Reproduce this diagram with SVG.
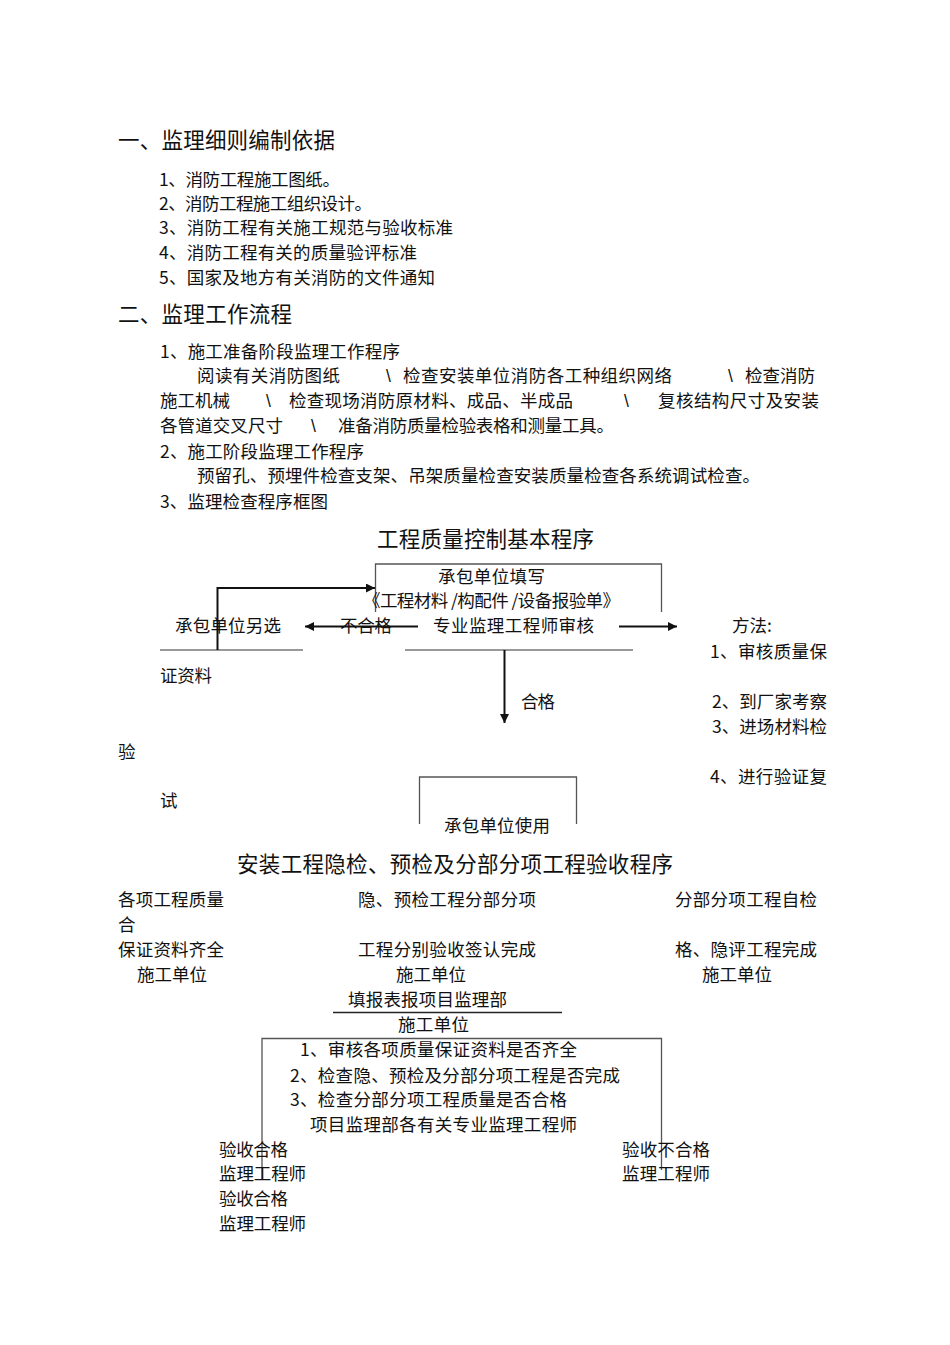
<svg xmlns="http://www.w3.org/2000/svg" width="950" height="1345" viewBox="0 0 950 1345">
<defs>
<style>
text{font-family:"Noto Sans CJK SC","Liberation Sans",sans-serif;fill:#111;font-size:17.5px}
.h{font-size:21.5px}
.bs{font-family:"Liberation Sans",sans-serif}
.thin{fill:none;stroke:#555;stroke-width:1.3}
.arr{fill:none;stroke:#111;stroke-width:2}
.ul{fill:none;stroke:#777;stroke-width:1.5}
</style>
<marker id="ah" viewBox="0 0 10 10" refX="10" refY="5" markerWidth="10" markerHeight="9" markerUnits="userSpaceOnUse" orient="auto">
<path d="M0,0 L10,5 L0,10 z" fill="#111"/>
</marker>
</defs>
<rect width="950" height="1345" fill="#fff"/>

<g id="section1">
<text class="h" x="118" y="148" textLength="217">一、监理细则编制依据</text>
<text x="159" y="186" textLength="181">1、消防工程施工图纸。</text>
<text x="159" y="210" textLength="213">2、消防工程施工组织设计。</text>
<text x="159" y="234" textLength="294">3、消防工程有关施工规范与验收标准</text>
<text x="159" y="259" textLength="258">4、消防工程有关的质量验评标准</text>
<text x="159" y="284" textLength="276">5、国家及地方有关消防的文件通知</text>
</g>

<g id="section2">
<text class="h" x="118" y="322" textLength="174">二、监理工作流程</text>
<text x="160" y="358" textLength="240">1、施工准备阶段监理工作程序</text>
<text x="197" y="382" textLength="143">阅读有关消防图纸</text>
<text class="bs" x="386" y="382">\</text>
<text x="403" y="382" textLength="269">检查安装单位消防各工种组织网络</text>
<text class="bs" x="728" y="382">\</text>
<text x="745" y="382" textLength="70">检查消防</text>
<text x="160" y="407" textLength="70">施工机械</text>
<text class="bs" x="266" y="407">\</text>
<text x="289" y="407" textLength="284">检查现场消防原材料、成品、半成品</text>
<text class="bs" x="624" y="407">\</text>
<text x="658" y="407" textLength="161">复核结构尺寸及安装</text>
<text x="160" y="432" textLength="123">各管道交叉尺寸</text>
<text class="bs" x="311" y="432">\</text>
<text x="338" y="432" textLength="276">准备消防质量检验表格和测量工具。</text>
<text x="160" y="458" textLength="204">2、施工阶段监理工作程序</text>
<text x="197" y="482" textLength="563">预留孔、预埋件检查支架、吊架质量检查安装质量检查各系统调试检查。</text>
<text x="160" y="508" textLength="168">3、监理检查程序框图</text>
</g>

<g id="diagram1">
<text class="h" x="377" y="547" textLength="217">工程质量控制基本程序</text>
<g id="n-fill">
<path class="thin" d="M375.5,612 V564 H661.5 V612"/>
<text x="438" y="583" textLength="107">承包单位填写</text>
<text x="363" y="607" textLength="257">《工程材料 /构配件 /设备报验单》</text>
</g>
<g id="n-alt">
<text x="175" y="632" textLength="106">承包单位另选</text>
<path class="ul" d="M160,650 H303"/>
</g>
<g id="n-review">
<text x="433" y="632" textLength="161">专业监理工程师审核</text>
<path class="ul" d="M405,650 H633"/>
</g>
<g id="n-method">
<text x="732" y="632">方法:</text>
<text x="710" y="658" textLength="117">1、审核质量保</text>
<text x="160" y="682" textLength="52">证资料</text>
<text x="712" y="708" textLength="115">2、到厂家考察</text>
<text x="712" y="733" textLength="115">3、进场材料检</text>
<text x="118" y="758">验</text>
<text x="710" y="783" textLength="117">4、进行验证复</text>
<text x="160" y="807">试</text>
</g>
<g id="n-use">
<path class="thin" d="M419.5,824 V777 H576.5 V824"/>
<text x="444" y="832" textLength="106">承包单位使用</text>
</g>
<g id="connectors1">
<path class="arr" d="M217.5,650 V588 H375" marker-end="url(#ah)"/>
<path class="arr" d="M418,626.5 H305" marker-end="url(#ah)"/>
<path class="arr" d="M619,626.5 H677" marker-end="url(#ah)"/>
<path class="arr" d="M504.5,650 V723" marker-end="url(#ah)"/>
<text x="340" y="632" textLength="52">不合格</text>
<text x="521" y="708" textLength="34">合格</text>
</g>
</g>

<g id="diagram2">
<text class="h" x="237" y="872" textLength="436">安装工程隐检、预检及分部分项工程验收程序</text>
<g id="n-a">
<text x="118" y="906" textLength="106">各项工程质量</text>
<text x="118" y="931">合</text>
<text x="118" y="956" textLength="106">保证资料齐全</text>
<text x="137" y="981" textLength="70">施工单位</text>
</g>
<g id="n-b">
<text x="358" y="906" textLength="178">隐、预检工程分部分项</text>
<text x="358" y="956" textLength="178">工程分别验收签认完成</text>
<text x="396" y="981" textLength="70">施工单位</text>
</g>
<g id="n-c">
<text x="675" y="906" textLength="142">分部分项工程自检</text>
<text x="675" y="956" textLength="142">格、隐评工程完成</text>
<text x="702" y="981" textLength="70">施工单位</text>
</g>
<g id="n-report">
<text x="348" y="1006" textLength="159">填报表报项目监理部</text>
<path d="M333,1012.5 H562" fill="none" stroke="#222" stroke-width="1.3"/>
<text x="398" y="1031" textLength="71">施工单位</text>
</g>
<g id="n-check">
<path class="thin" d="M262,1180 V1038.5 H661.5 V1170"/>
<text x="300" y="1056" textLength="277">1、审核各项质量保证资料是否齐全</text>
<text x="290" y="1082" textLength="330">2、检查隐、预检及分部分项工程是否完成</text>
<text x="290" y="1106" textLength="277">3、检查分部分项工程质量是否合格</text>
<text x="310" y="1131" textLength="267">项目监理部各有关专业监理工程师</text>
</g>
<g id="n-pass">
<text x="219" y="1156" textLength="69">验收合格</text>
<text x="219" y="1180" textLength="87">监理工程师</text>
<text x="219" y="1205" textLength="69">验收合格</text>
<text x="219" y="1230" textLength="87">监理工程师</text>
</g>
<g id="n-fail">
<text x="622" y="1156" textLength="88">验收不合格</text>
<text x="622" y="1180" textLength="88">监理工程师</text>
</g>
</g>
</svg>
